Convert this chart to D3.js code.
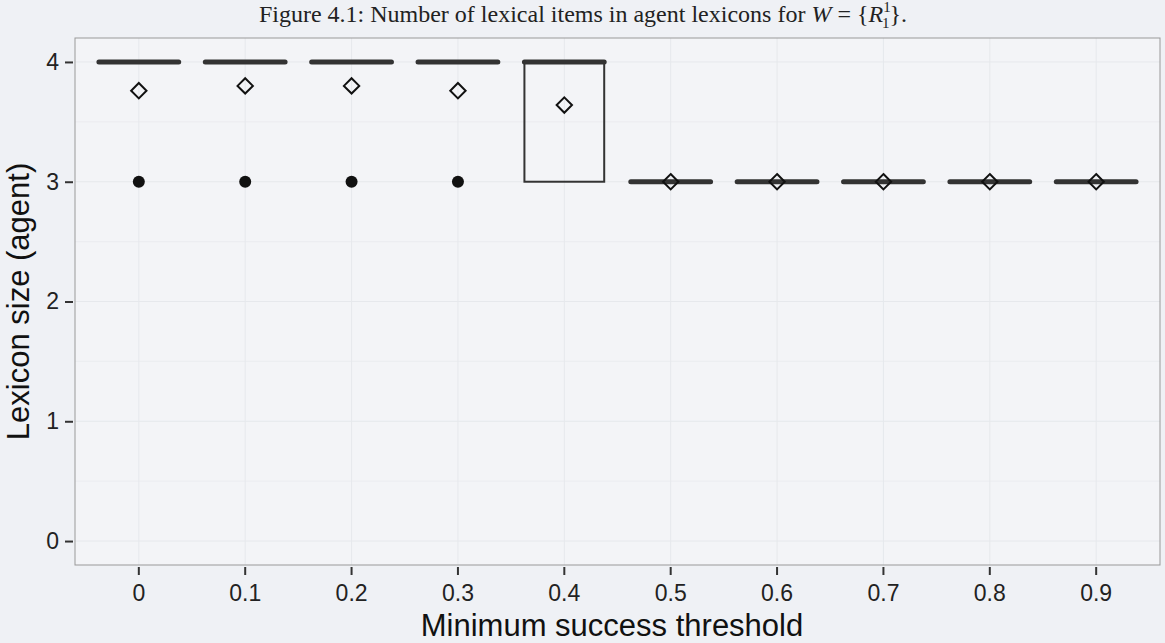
<!DOCTYPE html>
<html>
<head>
<meta charset="utf-8">
<script src="https://cdn.jsdelivr.net/npm/d3@7"></script>
<style>
  body { margin: 0; background: #eff1f5; }
</style>
</head>
<body>
<div id="chart"></div>
<script>
// box stats per threshold
var thresholds = ["0", "0.1", "0.2", "0.3", "0.4", "0.5", "0.6", "0.7", "0.8", "0.9"];
var lowerWhisker = [4, 4, 4, 4, 3, 3, 3, 3, 3, 3];
var q1           = [4, 4, 4, 4, 3, 3, 3, 3, 3, 3];
var medians      = [4, 4, 4, 4, 4, 3, 3, 3, 3, 3];
var q3           = [4, 4, 4, 4, 4, 3, 3, 3, 3, 3];
var upperWhisker = [4, 4, 4, 4, 4, 3, 3, 3, 3, 3];
var means        = [3.76, 3.80, 3.80, 3.76, 3.64, 3, 3, 3, 3, 3];
var outliers     = [3, 3, 3, 3, null, null, null, null, null, null];
var yTicks = [0, 1, 2, 3, 4];

var sans = "'Liberation Sans', Arial, sans-serif";

var margin = {top: 38, right: 5, bottom: 78, left: 75},
    width = 1165 - margin.left - margin.right,
    height = 643 - margin.top - margin.bottom;

var svg = d3.select("#chart").append("svg")
    .attr("width", 1165)
    .attr("height", 643);

svg.append("text")
    .attr("x", 583)
    .attr("y", 22)
    .attr("text-anchor", "middle")
    .style("font-family", "'Liberation Serif', 'Times New Roman', serif")
    .style("font-size", "24px")
    .style("fill", "#222")
    .html("Figure 4.1: Number of lexical items in agent lexicons for <tspan font-style='italic'>W</tspan> = {<tspan font-style='italic'>R</tspan><tspan font-size='15px' dy='-10'>1</tspan><tspan font-size='15px' dx='-8' dy='16'>1</tspan><tspan dy='-6'>}.</tspan>");

var g = svg.append("g")
    .attr("transform", "translate(" + margin.left + "," + margin.top + ")");

// discrete axis, 0.6 of a step of space at each end
var x = d3.scaleBand()
    .domain(thresholds)
    .range([0, width])
    .paddingInner(0)
    .paddingOuter(0.1);

var y = d3.scaleLinear()
    .domain([-0.2, 4.2])
    .range([height, 0]);

// panel
g.append("rect")
    .attr("width", width)
    .attr("height", height)
    .attr("fill", "#f3f4f7");

// faint grid
g.selectAll(".hgrid")
    .data([0, 0.5, 1, 1.5, 2, 2.5, 3, 3.5, 4])
    .enter().append("line")
    .attr("x1", 0).attr("x2", width)
    .attr("y1", function(d){ return y(d); })
    .attr("y2", function(d){ return y(d); })
    .attr("stroke", "#e6e8ec")
    .attr("stroke-width", function(d){ return d % 1 === 0 ? 1 : 0.6; });
g.selectAll(".vgrid")
    .data(thresholds)
    .enter().append("line")
    .attr("y1", 0).attr("y2", height)
    .attr("x1", function(d){ return x(d) + x.bandwidth() / 2; })
    .attr("x2", function(d){ return x(d) + x.bandwidth() / 2; })
    .attr("stroke", "#e6e8ec");

g.append("rect")
    .attr("width", width)
    .attr("height", height)
    .attr("fill", "none")
    .attr("stroke", "#999")
    .attr("stroke-width", 1);

// axes
var yAxis = g.append("g")
    .call(d3.axisLeft(y).tickValues(yTicks).tickFormat(d3.format("d")).tickSize(8).tickPadding(6));
yAxis.select(".domain").remove();
yAxis.selectAll("line").attr("stroke", "#333").attr("stroke-width", 2).attr("transform", "translate(-2,0)");
yAxis.selectAll("text")
    .attr("transform", "translate(-2,0)")
    .style("font-family", sans).style("font-size", "23px").style("fill", "#222");

var xAxis = g.append("g")
    .attr("transform", "translate(0," + height + ")")
    .call(d3.axisBottom(x).tickSize(8).tickPadding(8));
xAxis.select(".domain").remove();
xAxis.selectAll("line").attr("stroke", "#333").attr("stroke-width", 2).attr("transform", "translate(0,2)");
xAxis.selectAll("text")
    .attr("transform", "translate(0,4)")
    .style("font-family", sans).style("font-size", "23px").style("fill", "#222");

svg.append("text")
    .attr("text-anchor", "middle")
    .attr("x", 612)
    .attr("y", 636)
    .style("font-family", sans).style("font-size", "31px").style("fill", "#111")
    .text("Minimum success threshold");

svg.append("text")
    .attr("text-anchor", "middle")
    .attr("transform", "translate(29," + (margin.top + height / 2) + ") rotate(-90)")
    .style("font-family", sans).style("font-size", "31px").style("fill", "#111")
    .text("Lexicon size (agent)");

// boxes
var data = thresholds.map(function(t, i) {
  return {t: t, lo: lowerWhisker[i], q1: q1[i], med: medians[i], q3: q3[i],
          hi: upperWhisker[i], mean: means[i], out: outliers[i]};
});

var boxW = x.step() * 0.75;
var boxes = g.selectAll(".box")
    .data(data)
    .enter().append("g")
    .attr("transform", function(d){ return "translate(" + (x(d.t) + x.bandwidth() / 2) + ",0)"; });

// whiskers outside the box only
boxes.append("line")
    .attr("y1", function(d){ return y(d.q3); })
    .attr("y2", function(d){ return y(d.hi); })
    .attr("stroke", "#333").attr("stroke-width", 2);
boxes.append("line")
    .attr("y1", function(d){ return y(d.q1); })
    .attr("y2", function(d){ return y(d.lo); })
    .attr("stroke", "#333").attr("stroke-width", 2);

boxes.append("rect")
    .attr("x", -boxW / 2)
    .attr("width", boxW)
    .attr("y", function(d){ return y(d.q3); })
    .attr("height", function(d){ return y(d.q1) - y(d.q3); })
    .attr("fill", "none")
    .attr("stroke", "#333")
    .attr("stroke-width", 2);

boxes.append("line")
    .attr("x1", -boxW / 2).attr("x2", boxW / 2)
    .attr("y1", function(d){ return y(d.med); })
    .attr("y2", function(d){ return y(d.med); })
    .attr("stroke", "#333")
    .attr("stroke-width", 5)
    .attr("stroke-linecap", "round");

boxes.filter(function(d){ return d.out !== null; })
    .append("circle")
    .attr("cy", function(d){ return y(d.out); })
    .attr("r", 6)
    .attr("fill", "#111");

boxes.append("path")
    .attr("d", d3.symbol().type(d3.symbolDiamond2).size(150))
    .attr("transform", function(d){ return "translate(0," + y(d.mean) + ")"; })
    .attr("fill", "none")
    .attr("stroke", "#111")
    .attr("stroke-width", 2);
</script>
</body>
</html>
